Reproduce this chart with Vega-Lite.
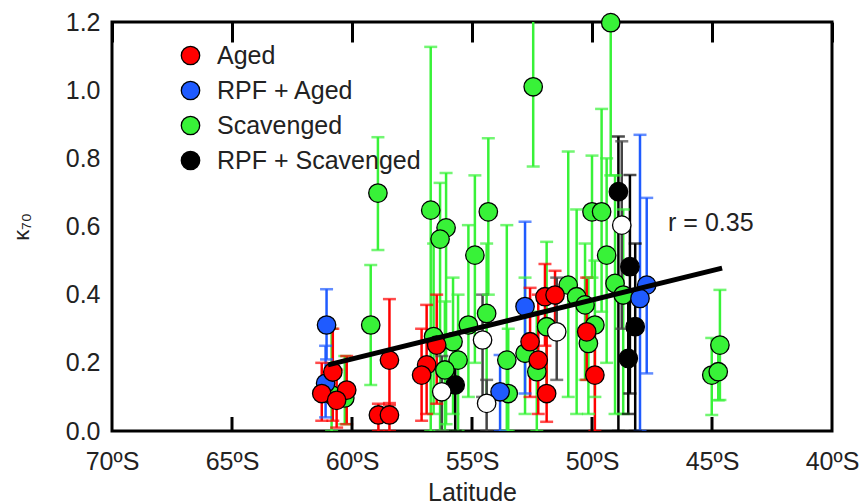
{
  "$schema": "https://vega.github.io/schema/vega-lite/v6.json",
  "width": 720,
  "height": 409,
  "autosize": {"type": "none"},
  "padding": {"left": 112, "top": 22, "right": 33, "bottom": 73},
  "background": "white",
  "config": {
    "font": "Liberation Sans",
    "view": {"stroke": "black", "strokeWidth": 3},
    "axis": {"grid": false, "labelColor": "#222", "titleColor": "#222", "labelFont": "Liberation Sans", "titleFont": "Liberation Sans", "titleFontWeight": "normal"}
  },
  "datasets": {
    "pts": [
      {"lat": -60.85, "k": 0.106, "lo": 0.0, "hi": 0.30, "type": "Scavenged"},
      {"lat": -60.3, "k": 0.097, "lo": 0.02, "hi": 0.22, "type": "Scavenged"},
      {"lat": -59.22, "k": 0.311, "lo": 0.135, "hi": 0.487, "type": "Scavenged"},
      {"lat": -58.92, "k": 0.698, "lo": 0.531, "hi": 0.862, "type": "Scavenged"},
      {"lat": -56.72, "k": 0.648, "lo": 0.0, "hi": 1.127, "type": "Scavenged"},
      {"lat": -56.08, "k": 0.596, "lo": 0.02, "hi": 0.757, "type": "Scavenged"},
      {"lat": -56.33, "k": 0.563, "lo": 0.0, "hi": 0.728, "type": "Scavenged"},
      {"lat": -56.6, "k": 0.277, "lo": 0.05, "hi": 0.55, "type": "Scavenged"},
      {"lat": -55.79, "k": 0.262, "lo": 0.05, "hi": 0.45, "type": "Scavenged"},
      {"lat": -55.58, "k": 0.208, "lo": 0.0, "hi": 0.40, "type": "Scavenged"},
      {"lat": -56.13, "k": 0.179, "lo": 0.0, "hi": 0.38, "type": "Scavenged"},
      {"lat": -55.15, "k": 0.311, "lo": 0.1, "hi": 0.604, "type": "Scavenged"},
      {"lat": -54.39, "k": 0.345, "lo": 0.1, "hi": 0.55, "type": "Scavenged"},
      {"lat": -54.88, "k": 0.516, "lo": 0.2, "hi": 0.75, "type": "Scavenged"},
      {"lat": -54.32, "k": 0.643, "lo": 0.4, "hi": 0.859, "type": "Scavenged"},
      {"lat": -53.55, "k": 0.208, "lo": 0.0, "hi": 0.604, "type": "Scavenged"},
      {"lat": -53.49, "k": 0.11, "lo": 0.0, "hi": 0.30, "type": "Scavenged"},
      {"lat": -52.79, "k": 0.228, "lo": 0.05, "hi": 0.45, "type": "Scavenged"},
      {"lat": -52.3, "k": 0.174, "lo": 0.0, "hi": 0.35, "type": "Scavenged"},
      {"lat": -51.89, "k": 0.306, "lo": 0.1, "hi": 0.555, "type": "Scavenged"},
      {"lat": -52.45, "k": 1.01, "lo": 0.776, "hi": 1.3, "type": "Scavenged"},
      {"lat": -50.99, "k": 0.428, "lo": 0.1, "hi": 0.82, "type": "Scavenged"},
      {"lat": -50.64, "k": 0.394, "lo": 0.05, "hi": 0.65, "type": "Scavenged"},
      {"lat": -50.29, "k": 0.37, "lo": 0.15, "hi": 0.55, "type": "Scavenged"},
      {"lat": -50.15, "k": 0.257, "lo": 0.05, "hi": 0.45, "type": "Scavenged"},
      {"lat": -49.88, "k": 0.311, "lo": 0.1, "hi": 0.5, "type": "Scavenged"},
      {"lat": -50.0, "k": 0.643, "lo": 0.45, "hi": 0.808, "type": "Scavenged"},
      {"lat": -49.6, "k": 0.643, "lo": 0.35, "hi": 0.945, "type": "Scavenged"},
      {"lat": -49.39, "k": 0.516, "lo": 0.2, "hi": 0.80, "type": "Scavenged"},
      {"lat": -49.22, "k": 1.198, "lo": 0.75, "hi": 1.6, "type": "Scavenged"},
      {"lat": -49.04, "k": 0.433, "lo": 0.05, "hi": 0.75, "type": "Scavenged"},
      {"lat": -48.7, "k": 0.399, "lo": 0.05, "hi": 0.65, "type": "Scavenged"},
      {"lat": -44.67, "k": 0.252, "lo": 0.091, "hi": 0.414, "type": "Scavenged"},
      {"lat": -45.01, "k": 0.164, "lo": 0.047, "hi": 0.273, "type": "Scavenged"},
      {"lat": -44.74, "k": 0.174, "lo": 0.09, "hi": 0.26, "type": "Scavenged"},
      {"lat": -61.06, "k": 0.311, "lo": 0.21, "hi": 0.416, "type": "RPF + Aged"},
      {"lat": -61.1, "k": 0.14, "lo": 0.04, "hi": 0.25, "type": "RPF + Aged"},
      {"lat": -53.83, "k": 0.115, "lo": 0.0, "hi": 0.223, "type": "RPF + Aged"},
      {"lat": -52.79, "k": 0.365, "lo": 0.11, "hi": 0.614, "type": "RPF + Aged"},
      {"lat": -47.72, "k": 0.428, "lo": 0.169, "hi": 0.684, "type": "RPF + Aged"},
      {"lat": -48.0, "k": 0.389, "lo": 0.0, "hi": 0.869, "type": "RPF + Aged"},
      {"lat": -60.8, "k": 0.173, "lo": 0.03, "hi": 0.30, "type": "Aged"},
      {"lat": -61.26, "k": 0.11, "lo": 0.03, "hi": 0.20, "type": "Aged"},
      {"lat": -60.22, "k": 0.12, "lo": 0.02, "hi": 0.22, "type": "Aged"},
      {"lat": -60.64, "k": 0.09, "lo": 0.01, "hi": 0.18, "type": "Aged"},
      {"lat": -58.44, "k": 0.208, "lo": 0.076, "hi": 0.387, "type": "Aged"},
      {"lat": -58.9, "k": 0.047, "lo": 0.0, "hi": 0.08, "type": "Aged"},
      {"lat": -58.44, "k": 0.047, "lo": 0.0, "hi": 0.082, "type": "Aged"},
      {"lat": -56.47, "k": 0.252, "lo": 0.08, "hi": 0.40, "type": "Aged"},
      {"lat": -56.89, "k": 0.194, "lo": 0.05, "hi": 0.37, "type": "Aged"},
      {"lat": -57.1, "k": 0.164, "lo": 0.03, "hi": 0.30, "type": "Aged"},
      {"lat": -52.58, "k": 0.262, "lo": 0.10, "hi": 0.42, "type": "Aged"},
      {"lat": -52.24, "k": 0.208, "lo": 0.05, "hi": 0.40, "type": "Aged"},
      {"lat": -51.89, "k": 0.11, "lo": 0.027, "hi": 0.30, "type": "Aged"},
      {"lat": -51.96, "k": 0.394, "lo": 0.25, "hi": 0.49, "type": "Aged"},
      {"lat": -51.54, "k": 0.399, "lo": 0.30, "hi": 0.47, "type": "Aged"},
      {"lat": -50.22, "k": 0.291, "lo": 0.15, "hi": 0.45, "type": "Aged"},
      {"lat": -49.88, "k": 0.164, "lo": 0.0, "hi": 0.32, "type": "Aged"},
      {"lat": -55.7, "k": 0.135, "lo": 0.0, "hi": 0.20, "type": "RPF + Scavenged"},
      {"lat": -48.9, "k": 0.702, "lo": 0.0, "hi": 0.864, "type": "RPF + Scavenged"},
      {"lat": -48.42, "k": 0.482, "lo": 0.11, "hi": 0.751, "type": "RPF + Scavenged"},
      {"lat": -48.2, "k": 0.306, "lo": 0.0, "hi": 0.55, "type": "RPF + Scavenged"},
      {"lat": -48.49, "k": 0.213, "lo": 0.05, "hi": 0.40, "type": "RPF + Scavenged"},
      {"lat": -56.26, "k": 0.115, "lo": 0.0, "hi": 0.22, "type": "Other"},
      {"lat": -54.39, "k": 0.081, "lo": 0.0, "hi": 0.15, "type": "Other"},
      {"lat": -54.56, "k": 0.267, "lo": 0.1, "hi": 0.4, "type": "Other"},
      {"lat": -51.47, "k": 0.291, "lo": 0.15, "hi": 0.45, "type": "Other"},
      {"lat": -48.76, "k": 0.604, "lo": 0.3, "hi": 0.85, "type": "Other"}
    ],
    "fit": [
      {"lat": -61.0, "k": 0.194},
      {"lat": -44.58, "k": 0.478}
    ],
    "note": [
      {"lat": -46.83, "k": 0.61, "label": "r = 0.35"}
    ],
    "tickpos": [
      {"lat": -65}, {"lat": -60}, {"lat": -55}, {"lat": -50}, {"lat": -45}
    ]
  },
  "layer": [
    {
      "data": {"name": "pts"},
      "mark": {"type": "rule", "strokeWidth": 2.5, "clip": true},
      "encoding": {
        "x": {"field": "lat", "type": "quantitative", "scale": {"domain": [-70, -40], "nice": false},
          "axis": {"orient": "bottom", "title": "Latitude", "values": [-70, -65, -60, -55, -50, -45, -40], "labelExpr": "abs(datum.value) + 'ºS'", "labelFontSize": 25, "titleFontSize": 25, "domain": false, "ticks": false, "labelPadding": 18, "titlePadding": 6, "labelFlush": false}},
        "y": {"field": "lo", "type": "quantitative", "scale": {"domain": [0, 1.2], "nice": false},
          "axis": {"title": "κ₇₀", "values": [0, 0.2, 0.4, 0.6, 0.8, 1.0, 1.2], "format": ".1f", "labelFontSize": 25, "titleFontSize": 22, "domain": false, "ticks": false, "labelPadding": 12, "titlePadding": 32}},
        "y2": {"field": "hi"},
        "color": {"condition": [
          {"test": "datum.type === 'Aged'", "value": "#ff0000"},
          {"test": "datum.type === 'RPF + Aged'", "value": "#1f5bff"},
          {"test": "datum.type === 'RPF + Scavenged'", "value": "#000000"},
          {"test": "datum.type === 'Other'", "value": "#444444"}
        ], "value": "#38f238"}
      }
    },
    {
      "data": {"name": "pts"},
      "mark": {"type": "tick", "orient": "horizontal", "size": 13, "thickness": 2.5, "clip": true},
      "encoding": {
        "x": {"field": "lat", "type": "quantitative", "axis": null},
        "y": {"field": "hi", "type": "quantitative"},
        "color": {"condition": [
          {"test": "datum.type === 'Aged'", "value": "#ff0000"},
          {"test": "datum.type === 'RPF + Aged'", "value": "#1f5bff"},
          {"test": "datum.type === 'RPF + Scavenged'", "value": "#000000"},
          {"test": "datum.type === 'Other'", "value": "#444444"}
        ], "value": "#38f238"}
      }
    },
    {
      "data": {"name": "pts"},
      "mark": {"type": "tick", "orient": "horizontal", "size": 13, "thickness": 2.5, "clip": true},
      "encoding": {
        "x": {"field": "lat", "type": "quantitative", "axis": null},
        "y": {"field": "lo", "type": "quantitative"},
        "color": {"condition": [
          {"test": "datum.type === 'Aged'", "value": "#ff0000"},
          {"test": "datum.type === 'RPF + Aged'", "value": "#1f5bff"},
          {"test": "datum.type === 'RPF + Scavenged'", "value": "#000000"},
          {"test": "datum.type === 'Other'", "value": "#444444"}
        ], "value": "#38f238"}
      }
    },
    {
      "data": {"name": "tickpos"},
      "mark": {"type": "tick", "orient": "vertical", "size": 28, "thickness": 3, "color": "black", "opacity": 1, "clip": true},
      "encoding": {
        "x": {"field": "lat", "type": "quantitative", "axis": null},
        "y": {"datum": 0}
      }
    },
    {
      "data": {"name": "pts"},
      "mark": {"type": "circle", "size": 340, "stroke": "black", "strokeWidth": 1.3, "opacity": 1, "fillOpacity": 1},
      "encoding": {
        "x": {"field": "lat", "type": "quantitative", "axis": null},
        "y": {"field": "k", "type": "quantitative"},
        "fill": {"field": "type", "type": "nominal",
          "scale": {"domain": ["Aged", "RPF + Aged", "Scavenged", "RPF + Scavenged", "Other"], "range": ["#ff0000", "#1f5bff", "#38f238", "#000000", "#ffffff"]},
          "legend": {"title": null, "orient": "none", "legendX": 66, "legendY": 21, "padding": 0, "values": ["Aged", "RPF + Aged", "Scavenged", "RPF + Scavenged"], "symbolType": "circle", "symbolSize": 340, "symbolStrokeColor": "black", "symbolStrokeWidth": 1.3, "symbolOpacity": 1, "labelFontSize": 25, "labelColor": "#222", "labelOffset": 14, "rowPadding": 9, "labelLimit": 0}}
      }
    },
    {
      "data": {"name": "fit"},
      "mark": {"type": "line", "color": "black", "strokeWidth": 5},
      "encoding": {
        "x": {"field": "lat", "type": "quantitative", "axis": null},
        "y": {"field": "k", "type": "quantitative"}
      }
    },
    {
      "data": {"name": "note"},
      "mark": {"type": "text", "align": "left", "baseline": "middle", "fontSize": 25, "color": "#222"},
      "encoding": {
        "x": {"field": "lat", "type": "quantitative", "axis": null},
        "y": {"field": "k", "type": "quantitative"},
        "text": {"field": "label"}
      }
    },
    {
      "data": {"values": [{"v": -70}]},
      "mark": {"type": "rule", "opacity": 0},
      "encoding": {
        "x": {"field": "v", "type": "quantitative",
          "axis": {"orient": "top", "title": null, "labels": false, "domain": false, "values": [-70, -65, -60, -55, -50, -45, -40], "tickSize": -20, "tickWidth": 3, "tickColor": "black"}}
      }
    }
  ],
  "resolve": {"axis": {"x": "independent"}}
}
